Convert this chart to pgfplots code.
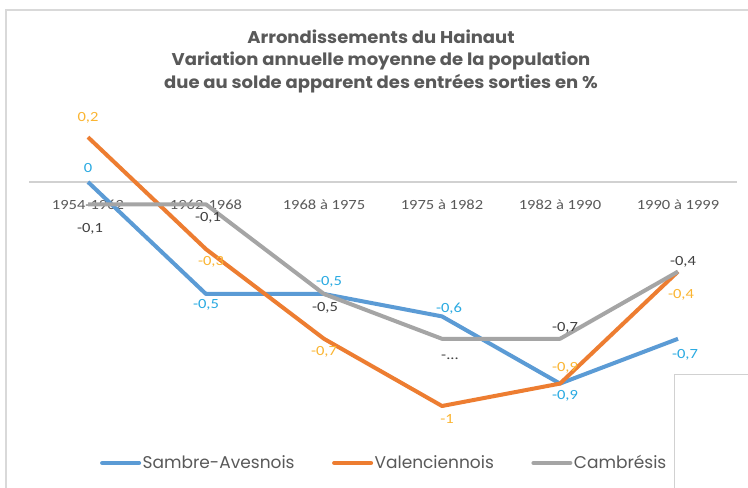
\documentclass[border=0pt]{standalone}
\usepackage{pgfplots}
\pgfplotsset{compat=1.18}
\usepackage{pgfplotstable}
\usepackage{fontspec}
\setmainfont{Carlito}[FakeStretch=1.18]
\newfontfamily\titlefont{Poppins}[FakeStretch=1.06]
\newfontfamily\legfont{Poppins}
\definecolor{sblue}{HTML}{5B9BD5}
\definecolor{sorange}{HTML}{ED7D31}
\definecolor{sgray}{HTML}{A5A5A5}
\definecolor{lblue}{HTML}{2AAAE2}
\definecolor{lorange}{HTML}{FBB532}
\definecolor{lgray}{HTML}{404040}
\definecolor{txt}{HTML}{595959}

\pgfplotstableread{
x y label dx dy
0 0 0 0 14
1 -0.5 -0,5 0 -11
2 -0.5 -0,5 5 12
3 -0.6 -0,6 7 8
4 -0.9 -0,9 5 -12
5 -0.7 -0,7 7 -16
}\sambre
\pgfplotstableread{
x y label dx dy
0 0.2 0,2 0 19
1 -0.3 -0,3 5 -13
2 -0.7 -0,7 0 -13
3 -1 -1 5 -13
4 -0.9 -0,9 5 16
5 -0.4 -0,4 3 -23
}\valen
\pgfplotstableread{
x y label dx dy
0 -0.1 -0,1 2 -24
1 -0.1 -0,1 2 -13
2 -0.5 -0,5 1 -14
3 -0.7 -... 8 -19
4 -0.7 -0,7 5 11
5 -0.4 -0,4 5 10
}\cambr

\begin{document}
\begin{tikzpicture}
\path[use as bounding box] (0,0) rectangle (748bp,488bp);
\fill[white] (0,0) rectangle (748bp,488bp);
\draw[color=black!15, line width=2bp] (6bp,0) -- (6bp,478bp) -- (748bp,478bp);
\draw[color=black!18, line width=1bp] (674.5bp,0) -- (674.5bp,113bp) -- (748bp,113bp);
\node[align=center, text=txt, font=\titlefont\bfseries\fontsize{17bp}{22.5bp}\selectfont] at (381bp,427bp)
  {Arrondissements du Hainaut\\Variation annuelle moyenne de la population\\due au solde apparent des entrées sorties en \%};
\begin{axis}[
  at={(29bp,59.6bp)}, anchor=south west,
  scale only axis, width=708bp, height=324.8bp,
  xmin=-0.5, xmax=5.5, ymin=-1.1, ymax=0.35,
  axis x line=middle, axis y line=none,
  x axis line style={-, draw=black!18, line width=1.2bp},
  xtick={0,1,2,3,4,5},
  xticklabels={1954-1962,1962-1968,1968 à 1975,1975 à 1982,1982 à 1990,1990 à 1999},
  major tick length=0pt,
  xticklabel style={text=txt, font=\fontsize{14bp}{16bp}\selectfont, anchor=center, yshift=-23bp},
  ytick=\empty,
  clip=false,
  every axis plot/.append style={line width=4bp, line join=round, mark=none},
  legend columns=3,
  legend style={draw=none, fill=none, at={(0.5014,-0.1065)}, anchor=center,
    font=\legfont\fontsize{17bp}{19bp}\selectfont, text=txt,
    /tikz/every even column/.append style={column sep=36bp},
    nodes={inner xsep=1.5bp}},
  legend image code/.code={\draw[#1, line cap=round] (0bp,0bp) -- (37bp,0bp);},
  lbl/.style={point meta=explicit symbolic,
    visualization depends on={\thisrow{dx} \as \dx},
    visualization depends on={\thisrow{dy} \as \dy},
    nodes near coords,
    nodes near coords style={anchor=center, xshift=\dx bp, yshift=\dy bp, font=\fontsize{14bp}{16bp}\selectfont, inner sep=0pt, text=#1}},
]
\addplot[sblue, lbl=lblue] table[x=x, y=y, meta=label] {\sambre};
\addlegendentry{Sambre-Avesnois}
\addplot[sorange, lbl=lorange] table[x=x, y=y, meta=label] {\valen};
\addlegendentry{Valenciennois}
\addplot[sgray, lbl=lgray] table[x=x, y=y, meta=label] {\cambr};
\addlegendentry{Cambrésis}
\end{axis}
\end{tikzpicture}
\end{document}
